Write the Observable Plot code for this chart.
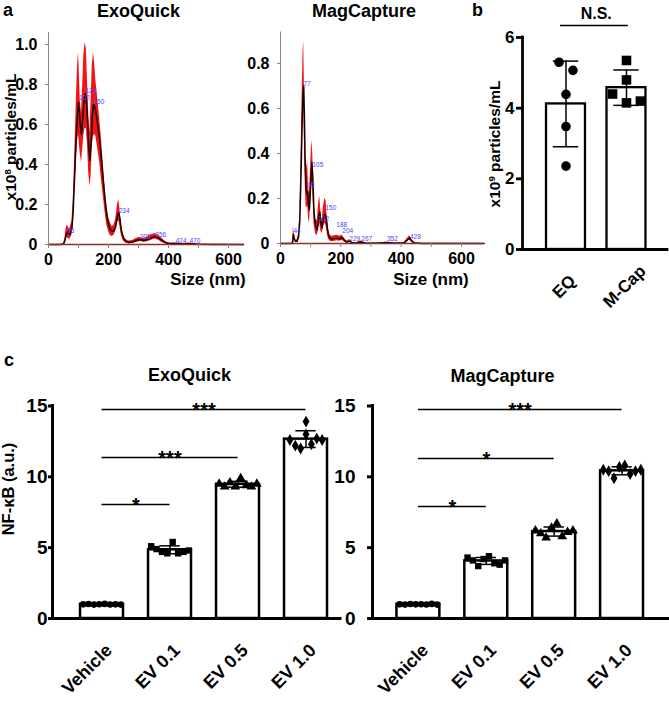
<!DOCTYPE html>
<html><head><meta charset="utf-8">
<script src="https://cdn.jsdelivr.net/npm/d3@7"></script>
<script src="https://cdn.jsdelivr.net/npm/@observablehq/plot@0.6"></script>
<style>
html,body{margin:0;padding:0;background:#fff;}
#root{position:relative;width:669px;height:714px;overflow:hidden;background:#fff;font-family:"Liberation Sans",Arial,Helvetica,sans-serif;}
.lbl{position:absolute;white-space:nowrap;line-height:1;font-weight:bold;color:#000;}
.lbl sup{font-size:0.62em;line-height:0;vertical-align:0.55em;}
</style></head><body><div id="root"></div>
<script>
// ---------- Panel a: NTA size distributions ----------
const exoSize = [0,40,50,55,58,62,66,70,74,78,82,86,90,94,97,100,103,106,110,114,118,122,126,130,134,138,142,146,150,154,158,164,170,176,182,188,194,200,206,212,218,224,230,234,238,243,250,258,268,280,292,305,318,330,345,356,368,380,392,405,424,445,470,500,550,650];
const exoMean = [0,0,0.002,0.02,0.045,0.06,0.065,0.05,0.06,0.08,0.16,0.30,0.45,0.58,0.66,0.71,0.66,0.60,0.55,0.63,0.71,0.755,0.73,0.62,0.50,0.42,0.50,0.64,0.70,0.69,0.66,0.60,0.53,0.43,0.33,0.23,0.15,0.10,0.075,0.065,0.07,0.09,0.145,0.16,0.13,0.07,0.03,0.015,0.01,0.012,0.02,0.025,0.02,0.025,0.035,0.04,0.032,0.018,0.008,0.004,0.005,0.003,0.004,0.001,0,0];
const exoLow  = [0,0,0,0.01,0.025,0.035,0.03,0.025,0.035,0.045,0.11,0.22,0.34,0.45,0.52,0.55,0.50,0.45,0.41,0.48,0.55,0.58,0.58,0.50,0.36,0.29,0.34,0.50,0.54,0.55,0.54,0.48,0.42,0.33,0.25,0.17,0.10,0.065,0.045,0.04,0.045,0.065,0.11,0.12,0.09,0.045,0.018,0.007,0.004,0.005,0.01,0.015,0.011,0.014,0.022,0.028,0.02,0.009,0.003,0.001,0.002,0.001,0.001,0,0,0];
const exoHigh = [0,0,0.004,0.03,0.075,0.095,0.09,0.075,0.095,0.115,0.21,0.38,0.58,0.78,0.90,0.96,0.85,0.72,0.66,0.80,0.95,1.01,0.98,0.82,0.66,0.56,0.72,0.90,0.96,0.90,0.82,0.73,0.64,0.54,0.42,0.30,0.20,0.14,0.11,0.09,0.095,0.125,0.20,0.225,0.18,0.095,0.045,0.025,0.017,0.02,0.03,0.036,0.03,0.037,0.05,0.055,0.045,0.027,0.013,0.007,0.008,0.005,0.007,0.002,0.001,0];
const exoPeakSize = [62,102,123,150,234,305,356,424,470];
const exoPeakValue = [0.06,0.725,0.76,0.705,0.16,0.03,0.04,0.01,0.01];
const exoPeakText = ["66","102","123","150","234","305","356","424","470"];

const magSize = [0,38,40,43,46,50,55,60,64,68,72,75,77,79,82,85,88,90,93,96,100,104,107,111,116,122,127,130,134,138,142,147,151,156,162,170,180,188,196,204,212,220,229,238,250,267,280,320,352,380,410,420,428,436,445,470,675];
const magMean = [0,0,0.005,0.04,0.02,0.01,0.01,0.03,0.10,0.30,0.55,0.68,0.70,0.58,0.35,0.24,0.22,0.23,0.17,0.15,0.26,0.36,0.30,0.14,0.08,0.06,0.12,0.14,0.09,0.07,0.11,0.13,0.12,0.06,0.025,0.02,0.022,0.025,0.02,0.027,0.014,0.006,0.011,0.003,0.002,0.007,0.002,0.001,0.004,0.001,0.003,0.015,0.025,0.01,0.002,0,0];
const magLow  = [0,0,0,0.02,0.01,0.005,0.005,0.02,0.07,0.23,0.45,0.58,0.62,0.47,0.26,0.16,0.16,0.17,0.11,0.09,0.18,0.28,0.23,0.09,0.045,0.035,0.07,0.09,0.055,0.045,0.07,0.09,0.08,0.035,0.012,0.008,0.01,0.012,0.01,0.015,0.007,0.002,0.005,0.001,0.001,0.003,0.001,0,0.002,0,0.001,0.009,0.016,0.005,0,0,0];
const magHigh = [0,0,0.012,0.078,0.032,0.016,0.016,0.042,0.13,0.38,0.68,0.86,0.90,0.72,0.44,0.32,0.35,0.36,0.25,0.22,0.35,0.46,0.40,0.19,0.11,0.10,0.19,0.21,0.14,0.10,0.16,0.20,0.19,0.10,0.04,0.032,0.034,0.037,0.032,0.038,0.022,0.01,0.018,0.005,0.003,0.011,0.003,0.002,0.006,0.002,0.005,0.021,0.034,0.015,0.003,0.001,0];
const magPeakSize = [43,76,89,106,125,149,185,205,228,268,353,429];
const magPeakValue = [0.045,0.70,0.245,0.34,0.10,0.15,0.075,0.045,0.013,0.013,0.009,0.018];
const magPeakText = ["44","77","92","105","132","150","188","204","229","267","352","428"];

// ---------- Panel b: particle concentration ----------
const bCategories = ["EQ","M-Cap"];
const bEQ = [5.3,5.07,4.39,3.48,2.36];
const bMCap = [5.35,4.8,4.4,4.15,4.2];

// ---------- Panel c: NF-kB activity ----------
const cCategories = ["Vehicle","EV 0.1","EV 0.5","EV 1.0"];
const cExoVehicle = [1.0,1.02,0.98,1.01,1.03,0.99,1.0,0.98];
const cExoEV01 = [5.1,4.9,4.7,4.6,5.4,4.6,4.7,4.8];
const cExoEV05 = [9.5,9.3,9.6,9.3,9.9,9.4,9.3,9.5];
const cExoEV10 = [12.6,12.2,12.0,13.0,13.9,12.3,12.7,12.6];
const cMagVehicle = [1.0,0.98,1.02,1.0,1.01,0.99,1.03,0.98];
const cMagEV01 = [4.3,4.1,3.7,4.2,4.4,3.9,3.8,4.1];
const cMagEV05 = [6.2,6.0,5.7,6.4,6.7,5.8,6.1,6.2];
const cMagEV10 = [10.5,10.4,9.9,10.7,10.8,10.2,10.4,10.5];
const cExoBrackets = [{from:0,to:3,y:14.75,text:"***"},{from:0,to:2,y:11.36,text:"***"},{from:0,to:1,y:8.04,text:"*"}];
const cMagBrackets = [{from:0,to:3,y:14.75,text:"***"},{from:0,to:2,y:11.29,text:"*"},{from:0,to:1,y:7.9,text:"*"}];
const cSymbols = ["circle","square","triangle","diamond"];

// ---------- helpers ----------
const FONT = '"Liberation Sans", Arial, Helvetica, sans-serif';
const root = document.getElementById("root");
function place(svg, left, top){ svg.style.position="absolute"; svg.style.left=left+"px"; svg.style.top=top+"px"; root.appendChild(svg); }
function label(html, x, baseline, size, opt={}){
  const d=document.createElement("div"); d.className="lbl"; d.innerHTML=html;
  d.style.fontSize=size+"px";
  if(opt.rotate){ d.style.left=x+"px"; d.style.top=baseline+"px"; d.style.transform="translate(-50%,-50%) rotate(-90deg)"; }
  else { d.style.top=(baseline-0.8465*size)+"px"; d.style.left=x+"px"; if(opt.anchor!=="start") d.style.transform="translateX(-50%)"; }
  root.appendChild(d);
}
function spread(values, threshold, spacing){
  const idx=d3.range(values.length).sort((a,b)=>values[b]-values[a]);
  const off=new Array(values.length).fill(0);
  let cl=[idx[0]];
  const flush=()=>{ const m=cl.slice().sort((a,b)=>a-b); const k=m.length; m.forEach((v,j)=>off[v]=(j-(k-1)/2)*spacing); };
  for(let t=1;t<idx.length;t++){ if(values[idx[t-1]]-values[idx[t]]<threshold) cl.push(idx[t]); else {flush(); cl=[idx[t]];} }
  flush();
  return off;
}

function ntaPanel(o){
  const rows=o.size.map((s,i)=>({s,m:o.mean[i],lo:o.low[i],hi:o.high[i]}));
  const pk=o.peakSize.map((s,i)=>({s,v:o.peakValue[i],t:o.peakText[i]}));
  return Plot.plot({
    width:o.width,height:o.height,marginLeft:o.marginLeft,marginRight:o.marginRight,marginTop:o.marginTop,marginBottom:o.marginBottom,
    style:{fontFamily:FONT,fontWeight:"bold",fontSize:"16px",background:"transparent",overflow:"visible",color:"#000"},
    x:{domain:o.xDomain,label:null},
    y:{domain:o.yDomain,label:null},
    marks:[
      Plot.areaY(rows,{x:"s",y1:"lo",y2:"hi",fill:"#f21414"}),
      Plot.lineY(rows,{x:"s",y:"m",stroke:"#1a0000",strokeWidth:1.5}),
      Plot.ruleY([0],{stroke:"#8a2e2e",strokeWidth:1.5}),
      Plot.ruleX([o.xDomain[0]],{stroke:"#888",strokeWidth:1}),
      Plot.text(pk,{x:"s",y:"v",text:"t",fill:"#4848ff",fontSize:6.5,fontWeight:"normal",textAnchor:"start",lineAnchor:"bottom"}),
      Plot.axisY({ticks:o.yTicks,tickFormat:d=>d===0?"0":d.toFixed(1),tickSize:3,tickPadding:8,stroke:"#888",label:null}),
      Plot.axisX({ticks:d3.range(0,601,100),tickFormat:d=>d%200===0?String(d):"",tickSize:4,tickPadding:5,stroke:"#888",label:null})
    ]
  });
}

function barPanel(o){
  const pts=[], summ=[];
  o.groups.forEach((vals,i)=>{
    const off=spread(vals,o.threshold,o.spacing);
    vals.forEach((v,j)=>pts.push({i,v,x:i+off[j]}));
    const m=d3.mean(vals), sd=d3.deviation(vals);
    summ.push({i,mean:m,lo:m-sd,hi:m+sd});
  });
  const cats=o.cats.map((name,i)=>({name,i}));
  const dotMarks=o.symbols.map((s,i)=>Plot.dot(pts.filter(p=>p.i===i),{x:"x",y:"v",symbol:s,r:s==="circle"?o.rCircle:o.rOther,fill:"black",stroke:"none"}));
  return Plot.plot({
    width:o.width,height:o.height,marginLeft:o.marginLeft,marginRight:o.marginRight,marginTop:o.marginTop,marginBottom:o.marginBottom,
    style:{fontFamily:FONT,fontWeight:"bold",fontSize:o.tickFont+"px",background:"transparent",overflow:"visible",color:"#000"},
    x:{domain:o.xDomain,axis:null},
    y:{domain:o.yDomain,label:null},
    marks:[
      Plot.rect(summ,{x1:d=>d.i-o.barHalf,x2:d=>d.i+o.barHalf,y1:0,y2:"mean",fill:"white",stroke:"black",strokeWidth:o.barStroke}),
      Plot.ruleX(summ,{x:"i",y1:"lo",y2:"hi",stroke:"black",strokeWidth:1.5}),
      Plot.ruleY(summ,{y:"hi",x1:d=>d.i-o.capHalf,x2:d=>d.i+o.capHalf,stroke:"black",strokeWidth:1.5}),
      Plot.ruleY(summ,{y:"lo",x1:d=>d.i-o.capHalf,x2:d=>d.i+o.capHalf,stroke:"black",strokeWidth:1.5}),
      ...dotMarks,
      Plot.ruleY([0],{stroke:"black",strokeWidth:o.axisWidth,strokeLinecap:"square"}),
      Plot.ruleX([o.xDomain[0]],{stroke:"black",strokeWidth:o.axisWidth,strokeLinecap:"square"}),
      Plot.axisY({ticks:o.yTicks,tickFormat:d=>String(d),tickSize:o.tickSize,tickPadding:o.tickPadding,strokeWidth:o.axisWidth,label:null}),
      Plot.text(cats,{x:"i",y:()=>0,text:"name",rotate:-45,textAnchor:o.labelAnchor,lineAnchor:"bottom",dx:o.labelDx,dy:o.labelDy,fontSize:o.labelFont}),
      Plot.ruleY(o.brackets,{y:"y",x1:d=>d.from+(d.padL||0),x2:d=>d.to+(d.padR||0),stroke:"black",strokeWidth:1.5}),
      Plot.text(o.brackets,{x:d=>(d.from+d.to)/2,y:"y",text:"text",lineAnchor:"bottom",dy:o.starDy,fontSize:o.starFont})
    ]
  });
}

// ---------- draw ----------
place(ntaPanel({size:exoSize,mean:exoMean,low:exoLow,high:exoHigh,peakSize:exoPeakSize,peakValue:exoPeakValue,peakText:exoPeakText,
  xDomain:[0,650],yDomain:[0,1.06],yTicks:[0,0.2,0.4,0.6,0.8,1.0],width:246,height:285,marginLeft:48,marginRight:3,marginTop:32,marginBottom:41}),0,0);
place(ntaPanel({size:magSize,mean:magMean,low:magLow,high:magHigh,peakSize:magPeakSize,peakValue:magPeakValue,peakText:magPeakText,
  xDomain:[0,675],yDomain:[0,0.94],yTicks:[0,0.2,0.4,0.6,0.8],width:236,height:285,marginLeft:30,marginRight:2.4,marginTop:31.5,marginBottom:42}),250,0);

place(barPanel({groups:[bEQ,bMCap],cats:bCategories,symbols:["circle","square"],rCircle:4.8,rOther:5.4,
  xDomain:[-0.719,1.678],yDomain:[0,6],yTicks:[0,2,4,6],width:219,height:285,marginLeft:72,marginRight:2,marginTop:37,marginBottom:36,
  barHalf:0.322,capHalf:0.21,spacing:0.23,threshold:0.3,barStroke:2.3,axisWidth:2.8,tickFont:17,tickSize:6,tickPadding:2,
  labelFont:17,labelAnchor:"middle",labelDx:2,labelDy:41,
  brackets:[{from:0,to:1,y:6.34,text:"N.S.",padL:-0.09,padR:0.03}],starDy:-6,starFont:16}),450,0);

place(barPanel({groups:[cExoVehicle,cExoEV01,cExoEV05,cExoEV10],cats:cCategories,symbols:cSymbols,rCircle:3.3,rOther:3.6,
  xDomain:[-0.728,3.507],yDomain:[0,15],yTicks:[0,5,10,15],width:340,height:334,marginLeft:52,marginRight:0,marginTop:25.5,marginBottom:96,
  barHalf:0.316,capHalf:0.15,spacing:0.079,threshold:0.5,barStroke:2.5,axisWidth:3,tickFont:19,tickSize:4,tickPadding:1,
  labelFont:18,labelAnchor:"end",labelDx:11,labelDy:33,
  brackets:cExoBrackets,starDy:7,starFont:20}),0,380);

place(barPanel({groups:[cMagVehicle,cMagEV01,cMagEV05,cMagEV10],cats:cCategories,symbols:cSymbols,rCircle:3.3,rOther:3.6,
  xDomain:[-0.676,3.684],yDomain:[0,15],yTicks:[0,5,10,15],width:329,height:334,marginLeft:32,marginRight:1,marginTop:25.5,marginBottom:96,
  barHalf:0.316,capHalf:0.15,spacing:0.079,threshold:0.5,barStroke:2.5,axisWidth:3,tickFont:19,tickSize:5,tickPadding:12,
  labelFont:18,labelAnchor:"end",labelDx:11,labelDy:33,
  brackets:cMagBrackets,starDy:7,starFont:20}),340,380);

// ---------- text ----------
label("a",3,16,18,{anchor:"start"});
label("ExoQuick",138.5,17,18);
label("MagCapture",364,17,18);
label("Size (nm)",208,285,17);
label("Size (nm)",431,285,17);
label("x10<sup>8</sup> particles/mL",11,137,15.5,{rotate:true});
label("b",472,16,18,{anchor:"start"});
label("x10<sup>9</sup> particles/mL",495,143.5,15.5,{rotate:true});
label("c",4,366,18,{anchor:"start"});
label("ExoQuick",189.5,381,18);
label("MagCapture",502.5,382,18);
label("NF-κB (a.u.)",8,489,16.5,{rotate:true});
</script></body></html>
